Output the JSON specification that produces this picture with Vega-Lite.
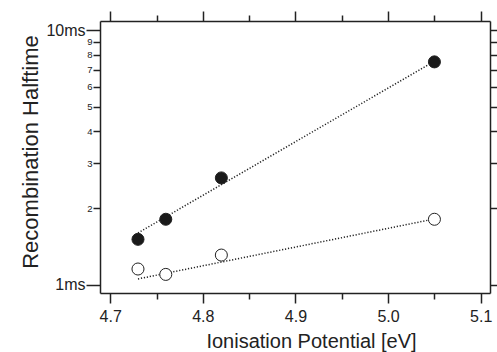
{
  "$schema": "https://vega.github.io/schema/vega-lite/v6.json",
  "width": 390,
  "height": 272,
  "autosize": "none",
  "padding": {"left": 100, "top": 21, "right": 7, "bottom": 59},
  "background": "white",
  "config": {
    "view": {"stroke": null},
    "font": "Liberation Sans",
    "axis": {"grid": false, "domainColor": "#222", "tickColor": "#222", "labelColor": "#222", "titleColor": "#222", "domainWidth": 1.5, "tickWidth": 1.5, "labelFont": "Liberation Sans", "titleFont": "Liberation Sans", "titleFontWeight": "normal"}
  },
  "datasets": {
    "pts": [
      {"ip": 4.73, "t": 1.51, "kind": "filled"},
      {"ip": 4.76, "t": 1.81, "kind": "filled"},
      {"ip": 4.82, "t": 2.63, "kind": "filled"},
      {"ip": 5.05, "t": 7.5, "kind": "filled"},
      {"ip": 4.73, "t": 1.155, "kind": "open"},
      {"ip": 4.76, "t": 1.1, "kind": "open"},
      {"ip": 4.82, "t": 1.31, "kind": "open"},
      {"ip": 5.05, "t": 1.81, "kind": "open"}
    ],
    "fits": [
      {"ip": 4.73, "t": 1.6, "kind": "filled"},
      {"ip": 5.043, "t": 7.29, "kind": "filled"},
      {"ip": 4.73, "t": 1.056, "kind": "open"},
      {"ip": 5.045, "t": 1.8, "kind": "open"}
    ]
  },
  "resolve": {"axis": {"x": "independent", "y": "independent"}},
  "layer": [
    {
      "data": {"name": "fits"},
      "mark": {"type": "line", "color": "#222", "strokeWidth": 1.5, "strokeDash": [1.2, 1.8]},
      "encoding": {
        "x": {"field": "ip", "type": "quantitative", "scale": {"domain": [4.689, 5.11], "nice": false, "zero": false},
          "axis": {"orient": "bottom", "values": [4.7, 4.75, 4.8, 4.85, 4.9, 4.95, 5.0, 5.05, 5.1],
            "labelExpr": "abs(datum.value*10 - round(datum.value*10)) < 0.01 ? format(datum.value, '.1f') : ''",
            "tickSize": {"condition": {"test": "abs(datum.value*10 - round(datum.value*10)) < 0.01", "value": 10}, "value": 6},
            "labelFontSize": 16, "labelPadding": 5, "labelFlush": false,
            "title": "Ionisation Potential [eV]", "titleFontSize": 20, "titleX": 211, "titleY": 54, "titleAlign": "center", "titleBaseline": "alphabetic"}},
        "y": {"field": "t", "type": "quantitative", "scale": {"type": "log", "domain": [0.93, 10.85], "nice": false},
          "axis": {"orient": "left", "values": [1, 2, 3, 4, 5, 6, 7, 8, 9, 10],
            "labelExpr": "datum.value == 1 ? '1ms' : datum.value == 10 ? '10ms' : format(datum.value, 'd')",
            "tickSize": {"condition": {"test": "datum.value == 1 || datum.value == 10", "value": 14}, "value": 7},
            "labelFontSize": {"condition": {"test": "datum.value == 1 || datum.value == 10", "value": 16}, "value": 9.5},
            "labelPadding": 1, "labelFlush": false,
            "title": "Recombination Halftime", "titleFontSize": 22, "titleAngle": -90, "titleX": -63, "titleY": 130.5, "titleAlign": "center", "titleBaseline": "alphabetic"}},
        "detail": {"field": "kind"}
      }
    },
    {
      "data": {"name": "pts"},
      "mark": {"type": "point", "shape": "circle", "size": 145, "strokeWidth": 1, "stroke": "#222", "opacity": 1},
      "encoding": {
        "x": {"field": "ip", "type": "quantitative",
          "axis": {"orient": "top", "values": [4.7, 4.75, 4.8, 4.85, 4.9, 4.95, 5.0, 5.05, 5.1], "labels": false, "title": null,
            "tickSize": {"condition": {"test": "abs(datum.value*10 - round(datum.value*10)) < 0.01", "value": 10}, "value": 6}}},
        "y": {"field": "t", "type": "quantitative",
          "axis": {"orient": "right", "values": [1, 2, 3, 4, 5, 6, 7, 8, 9, 10], "labels": false, "title": null, "tickSize": 7}},
        "fill": {"field": "kind", "type": "nominal", "scale": {"domain": ["filled", "open"], "range": ["#1a1a1a", "white"]}, "legend": null}
      }
    }
  ]
}
